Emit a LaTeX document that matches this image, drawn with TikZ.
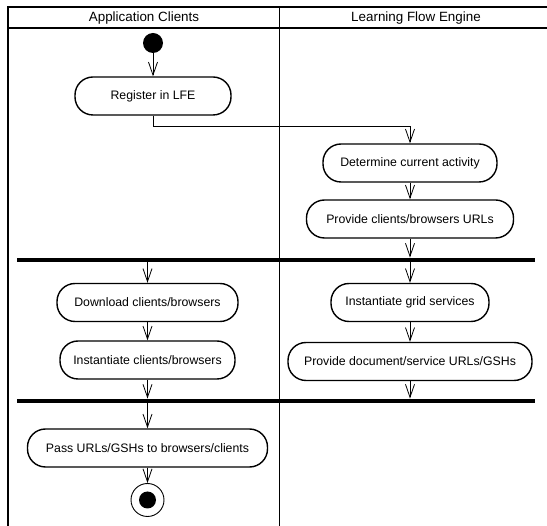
\documentclass[tikz,border=0pt]{standalone}
\usepackage{fontspec}
\setmainfont{Liberation Sans}
\usetikzlibrary{arrows.meta}

\begin{document}
\begin{tikzpicture}[x=1pt, y=-1pt,
    activity/.style={draw, line width=1.4pt, rounded corners=18pt, minimum height=38pt, inner sep=0pt, font=\fontsize{12.3}{14}\selectfont},
    lane/.style={inner sep=0pt, font=\fontsize{13.4}{15}\selectfont},
    syncbar/.style={fill=black, minimum width=518pt, minimum height=4.5pt, inner sep=0pt},
    initial/.style={circle, fill=black, minimum size=20pt, inner sep=0pt},
    final/.style={circle, draw, line width=0.9pt, minimum size=33pt, inner sep=0pt},
    arr/.style={-{Straight Barb[length=13pt, width=9pt, line width=0.8pt]}, line width=0.8pt}
]
\useasboundingbox (0,0) rectangle (547,526);

\draw[line width=2pt] (547,7) -- (8,7) -- (8,526);
\draw[line width=1.3pt] (8,28) -- (547,28);
\draw[line width=1pt] (279,7) -- (279,526);
\node[lane] (clients) at (144,18) {Application Clients};
\node[lane] (engine) at (416,18) {Learning Flow Engine};

\node[initial] (start) at (153,43) {};
\node[activity, minimum width=156pt] (reg) at (153,96) {Register in LFE};
\node[activity, minimum width=174pt] (det) at (410,163) {Determine current activity};
\node[activity, minimum width=207pt] (prov) at (410,219) {Provide clients/browsers URLs};
\node[syncbar] (bar1) at (276,260) {};
\node[activity, minimum width=181pt] (down) at (147.5,302.5) {Download clients/browsers};
\node[activity, minimum width=175pt] (inst) at (147.5,360) {Instantiate clients/browsers};
\node[activity, minimum width=158pt] (grid) at (410,302.5) {Instantiate grid services};
\node[activity, minimum width=244pt] (doc) at (410,361.5) {Provide document/service URLs/GSHs};
\node[syncbar] (bar2) at (276,401) {};
\node[activity, minimum width=240pt] (pass) at (147.5,448) {Pass URLs/GSHs to browsers/clients};
\node[final] (end) at (147.5,500) {};
\node[circle, fill=black, minimum size=17pt, inner sep=0pt] (enddot) at (end) {};

\draw[arr] (start) -- (reg);
\draw[arr] (reg.south) -- ++(0,11) -| (det.north);
\draw[arr] (det) -- (prov);
\draw[arr] (prov) -- (prov |- bar1.north);
\draw[arr] (bar1.south -| down) -- (down);
\draw[arr] (bar1.south -| grid) -- (grid);
\draw[arr] (down) -- (inst);
\draw[arr] (grid) -- (doc);
\draw[arr] (inst) -- (inst |- bar2.north);
\draw[arr] (doc) -- (doc |- bar2.north);
\draw[arr] (bar2.south -| pass) -- (pass);
\draw[arr] (pass) -- (end);
\end{tikzpicture}
\end{document}
